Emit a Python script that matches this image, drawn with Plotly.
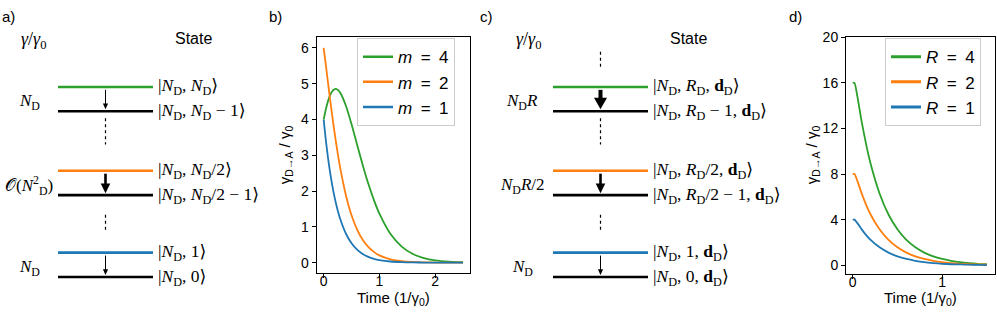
import plotly.graph_objects as go

W, H = 997, 316

# ---------------- data ----------------
# panel b: gamma_{D->A}/gamma_0 vs time for m excitations
t_b = [0, 0.05, 0.1, 0.15, 0.2, 0.25, 0.3, 0.4, 0.5, 0.6, 0.7, 0.8, 0.9, 1.0,
       1.2, 1.4, 1.6, 1.8, 2.0, 2.25, 2.5]
rate_m4 = [4.0, 4.358, 4.620, 4.786, 4.853, 4.835, 4.741, 4.377, 3.865, 3.295,
           2.731, 2.210, 1.754, 1.370, 0.801, 0.450, 0.244, 0.129, 0.067, 0.029, 0.012]
rate_m2 = [6.0, 5.380, 4.751, 4.146, 3.585, 3.076, 2.622, 1.879, 1.325, 0.925,
           0.640, 0.440, 0.301, 0.205, 0.094, 0.043, 0.020, 0.009, 0.004, 0.0015, 0.0005]
rate_m1 = [4.0, 3.275, 2.681, 2.195, 1.797, 1.472, 1.205, 0.808, 0.541, 0.363,
           0.243, 0.163, 0.109, 0.073, 0.033, 0.015, 0.007, 0.003, 0.001, 0.0005, 0.0002]
labels_b = ["<i>m</i>\u2002=\u20024", "<i>m</i>\u2002=\u20022", "<i>m</i>\u2002=\u20021"]

# panel d: gamma_{D->A}/gamma_0 vs time for R
t_d = [0, 0.02, 0.05, 0.1, 0.15, 0.2, 0.3, 0.4, 0.5, 0.6, 0.7, 0.8, 0.9, 1.0,
       1.1, 1.2, 1.3, 1.4, 1.5]
rate_R4 = [16, 16, 14.9, 12.6, 10.6, 8.9, 6.3, 4.45, 3.15, 2.22, 1.57, 1.11,
           0.78, 0.55, 0.39, 0.27, 0.19, 0.13, 0.09]
rate_R2 = [8, 8, 7.45, 6.3, 5.3, 4.45, 3.15, 2.22, 1.57, 1.11, 0.78, 0.55, 0.39,
           0.27, 0.19, 0.13, 0.09, 0.07, 0.05]
rate_R1 = [4, 4, 3.72, 3.15, 2.65, 2.22, 1.57, 1.11, 0.78, 0.55, 0.39, 0.27, 0.19,
           0.13, 0.09, 0.07, 0.05, 0.03, 0.02]
labels_d = ["<i>R</i>\u2002=\u20024", "<i>R</i>\u2002=\u20022", "<i>R</i>\u2002=\u20021"]

colors = ["#2ca02c", "#ff7f0e", "#1f77b4"]

# level diagrams
ND = "<i>N</i><sub>D</sub>"
dD = "<b>d</b><sub>D</sub>"
rates_a = [ND, "𝒪(<i>N</i><sup>2</sup><sub>D</sub>)", ND]
kets_a = [
    (f"|{ND}, {ND}⟩", f"|{ND}, {ND} − 1⟩"),
    (f"|{ND}, {ND}/2⟩", f"|{ND}, {ND}/2 − 1⟩"),
    (f"|{ND}, 1⟩", f"|{ND}, 0⟩"),
]
arrows_a = ["thin", "thick", "thin"]
rates_c = [f"{ND}<i>R</i>", f"{ND}<i>R</i>/2", ND]
kets_c = [
    (f"|{ND}, <i>R</i><sub>D</sub>, {dD}⟩", f"|{ND}, <i>R</i><sub>D</sub> − 1, {dD}⟩"),
    (f"|{ND}, <i>R</i><sub>D</sub>/2, {dD}⟩", f"|{ND}, <i>R</i><sub>D</sub>/2 − 1, {dD}⟩"),
    (f"|{ND}, 1, {dD}⟩", f"|{ND}, 0, {dD}⟩"),
]
arrows_c = ["huge", "thick", "thin"]

# ---------------- helpers ----------------
def px(x):
    return x / W

def py(y):
    return 1 - y / H

SANS = "Liberation Sans, Arial, sans-serif"
SERIF = "Liberation Serif, DejaVu Serif, serif"

fig = go.Figure()

# panel b traces
for lab, col, ys in zip(labels_b, colors, [rate_m4, rate_m2, rate_m1]):
    fig.add_trace(go.Scatter(x=t_b, y=ys, mode="lines", line=dict(color=col, width=1.8, shape="spline", smoothing=0.8),
                             xaxis="x", yaxis="y", showlegend=False))
    fig.add_trace(go.Scatter(x=[None], y=[None], mode="lines", line=dict(color=col, width=2.5),
                             xaxis="x", yaxis="y", name=lab, legend="legend"))
# panel d traces
for lab, col, ys in zip(labels_d, colors, [rate_R4, rate_R2, rate_R1]):
    fig.add_trace(go.Scatter(x=t_d, y=ys, mode="lines", line=dict(color=col, width=1.8, shape="spline", smoothing=0.6),
                             xaxis="x2", yaxis="y2", showlegend=False))
    fig.add_trace(go.Scatter(x=[None], y=[None], mode="lines", line=dict(color=col, width=3),
                             xaxis="x2", yaxis="y2", name=lab, legend="legend2"))

shapes = []
annotations = []

def text(x, y, s, size=15, family=SANS, xanchor="center", yanchor="middle", angle=0):
    annotations.append(dict(x=px(x), y=py(y), xref="paper", yref="paper", text=s, showarrow=False,
                            xanchor=xanchor, yanchor=yanchor, textangle=angle,
                            font=dict(family=family, size=size, color="black")))

def hline(x0, x1, y, color, width=2.6):
    shapes.append(dict(type="line", xref="paper", yref="paper", x0=px(x0), x1=px(x1), y0=py(y), y1=py(y),
                       line=dict(color=color, width=width)))

def dots(x, y0, y1):
    shapes.append(dict(type="line", xref="paper", yref="paper", x0=px(x), x1=px(x), y0=py(y0), y1=py(y1),
                       line=dict(color="black", width=1.2, dash="dot")))

ARROW = {"thin": (1.0, 2.6, 6), "thick": (2.6, 4.8, 10), "huge": (4.0, 6.5, 12)}

def arrow(cx, ytop, ybot, kind):
    sw, hw, hh = ARROW[kind]
    ybase = ybot - hh
    shapes.append(dict(type="line", xref="paper", yref="paper", x0=px(cx), x1=px(cx), y0=py(ytop), y1=py(ybase + 1),
                       line=dict(color="black", width=sw)))
    shapes.append(dict(type="path", xref="paper", yref="paper",
                       path=f"M {px(cx-hw)},{py(ybase)} L {px(cx+hw)},{py(ybase)} L {px(cx)},{py(ybot)} Z",
                       fillcolor="black", line=dict(width=0)))

pair_y = [81, 167, 251]
gap = 25

def diagram(x0, x1, xr, xk, rates, kets, arrows, top_dots):
    cx = (x0 + x1) / 2
    for i, yt in enumerate(pair_y):
        yb = yt + gap
        hline(x0, x1, yt, colors[i])
        hline(x0, x1, yb, "black")
        arrow(cx, yt + 3, yb - 2, arrows[i])
        text(xr, (yt + yb) / 2 + 3, rates[i], size=17, family=SERIF)
        text(xk, yt, kets[i][0], size=17.5, family=SERIF, xanchor="left")
        text(xk, yb, kets[i][1], size=17.5, family=SERIF, xanchor="left")
    dots(cx, 113, 140)
    dots(cx, 212, 230)
    if top_dots:
        dots(cx, 45, 63)
    text(x0 - 24, 33, "<i>γ</i>/<i>γ</i><sub>0</sub>", size=18, family=SERIF)

diagram(58, 153, 29, 156, rates_a, kets_a, arrows_a, False)
diagram(553, 648, 522, 651, rates_c, kets_c, arrows_c, True)
text(193, 31, "State", size=16)
text(688, 31, "State", size=16)

# panel letters
text(0, 9, "a)", size=15, xanchor="left")
text(267, 9, "b)", size=15, xanchor="left")
text(478, 9, "c)", size=15, xanchor="left")
text(787, 9, "d)", size=15, xanchor="left")

# axis titles
ytitle = "γ<sub>D→A</sub> / γ<sub>0</sub>"
xtitle = "Time (1/γ<sub>0</sub>)"
text(285, 151, ytitle, size=15, angle=-90)
text(393, 298, xtitle, size=15)
text(812, 151, ytitle, size=15, angle=-90)
text(920, 298, xtitle, size=15)

axis_common = dict(showline=True, mirror=True, linecolor="black", linewidth=1, showgrid=False, zeroline=False,
                   ticks="outside", ticklen=4, tickwidth=1, tickcolor="black",
                   tickfont=dict(family=SANS, size=14, color="black"))

leg_font = dict(family=SANS, size=17, color="black")
fig.update_layout(
    width=W, height=H, margin=dict(l=0, r=0, t=0, b=0),
    paper_bgcolor="white", plot_bgcolor="white",
    xaxis=dict(domain=[px(316.7), px(470)], range=[-0.125, 2.625], tickvals=[0, 1, 2], anchor="y",
               ticklabelstandoff=-9, **axis_common),
    yaxis=dict(domain=[py(272.3), py(30)], range=[-0.3, 6.3], tickvals=[0, 1, 2, 3, 4, 5, 6], anchor="x", **axis_common),
    xaxis2=dict(domain=[px(846), px(994.5)], range=[-0.075, 1.585], tickvals=[0, 1], anchor="y2",
                ticklabelstandoff=-9, **axis_common),
    yaxis2=dict(domain=[py(273.3), py(30)], range=[-0.8, 20], tickvals=[0, 4, 8, 12, 16, 20], anchor="x2", **axis_common),
    legend=dict(x=px(357), y=py(31), xanchor="left", yanchor="top", bordercolor="#cccccc", borderwidth=1,
                bgcolor="rgba(255,255,255,0.85)", font=leg_font, itemwidth=30, tracegroupgap=0),
    legend2=dict(x=px(885), y=py(31), xanchor="left", yanchor="top", bordercolor="#cccccc", borderwidth=1,
                 bgcolor="rgba(255,255,255,0.85)", font=leg_font, itemwidth=30, tracegroupgap=0),
    shapes=shapes, annotations=annotations,
)

fig.write_html("out.html", config={"displayModeBar": False},
               post_script="document.body.style.margin='0';document.body.style.padding='0';document.body.style.overflow='hidden';")
